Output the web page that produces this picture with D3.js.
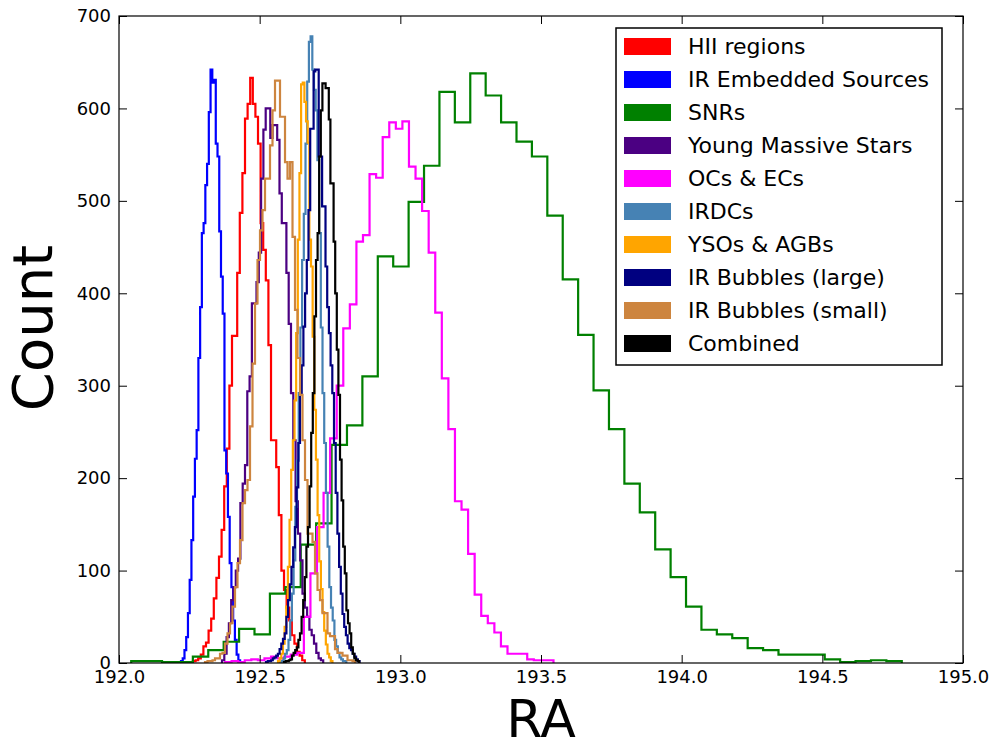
<!DOCTYPE html>
<html>
<head>
<meta charset="utf-8">
<script src="https://cdn.jsdelivr.net/npm/d3@7"></script>
<style>
  body { margin: 0; background: #fff; }
  svg { display: block; font-family: "DejaVu Sans", sans-serif; }
</style>
</head>
<body>
<svg id="chart" width="990" height="748"></svg>
<script>
"use strict";

// bin range [lo, hi] in RA, counts split evenly across it
const hiiRange = [192.2630, 192.6605];
const hiiCounts = [2, 3, 5, 9, 18, 22, 35, 48, 70, 92, 115, 144, 191, 232, 300, 354, 354, 422, 487, 530,
    589, 605, 633, 605, 591, 562, 476, 447, 414, 344, 241, 241, 212, 160, 100, 79, 60, 46, 30, 21, 12, 8, 3];

const embRange = [192.2204, 192.4305];
const embCounts = [2, 5, 14, 28, 54, 90, 133, 180, 221, 252, 330, 385, 465, 476, 517, 540, 596, 642, 628, 631,
    562, 548, 467, 418, 378, 230, 205, 158, 108, 82, 46, 25, 9, 3];

const snrRange = [192.0434, 194.7824];
const snrCounts = [2, 2, 1, 1, 7, 14, 23, 37, 31, 75, 82, 128, 151, 236, 257, 310, 440, 429, 499, 538,
    618, 585, 638, 614, 585, 564, 548, 484, 415, 355, 295, 253, 194, 163, 123, 93, 61, 36, 31, 27,
    16, 14, 9, 9, 9, 4, 1, 2, 3, 2];

const ymsRange = [192.3661, 192.7258];
const ymsCounts = [3, 10, 28, 43, 68, 82, 100, 113, 173, 194, 214, 294, 310, 389, 389, 412, 444, 524, 577, 600,
    600, 568, 582, 582, 566, 508, 476, 476, 422, 367, 292, 241, 175, 140, 111, 75, 60, 50, 36, 30, 21, 11, 5, 3];

const ocRange = [192.3769, 193.5444];
const ocCounts = [1, 2, 1, 3, 4, 3, 5, 7, 5, 7, 9, 11, 50, 97, 147, 184, 243, 300, 362, 388,
    456, 463, 529, 525, 569, 585, 578, 586, 537, 524, 489, 444, 379, 308, 253, 175, 166, 118, 74, 51,
    43, 33, 18, 10, 10, 10, 4, 3, 3, 3];

const irdcRange = [192.5723, 192.8080];
const irdcCounts = [1, 2, 5, 10, 14, 25, 46, 75, 111, 169, 219, 292, 363, 436, 486, 562, 629, 672, 678, 642,
    620, 598, 544, 465, 363, 292, 238, 184, 126, 82, 60, 46, 25, 18, 11, 6, 4, 2, 2];

const ysoRange = [192.5652, 192.7587];
const ysoCounts = [2, 5, 10, 21, 39, 61, 104, 155, 209, 241, 284, 357, 458, 530, 626, 628, 607, 586, 563, 458,
    429, 353, 274, 220, 160, 110, 80, 55, 35, 20, 10, 6, 2];

const bigRange = [192.5225, 192.8549];
const bigCounts = [1, 2, 2, 3, 5, 6, 8, 10, 15, 21, 26, 32, 50, 68, 85, 104, 125, 147, 190, 238,
    290, 322, 364, 400, 436, 490, 578, 578, 640, 642, 642, 548, 548, 494, 494, 429, 385, 357, 322, 292,
    238, 184, 140, 104, 75, 53, 39, 30, 21, 16, 14, 10, 7, 4, 2];

const smallRange = [192.3057, 192.8389];
const smallCounts = [1, 2, 2, 3, 5, 5, 10, 11, 21, 32, 43, 61, 82, 108, 133, 173, 187, 198, 256, 324,
    389, 436, 468, 490, 524, 524, 560, 598, 630, 630, 591, 591, 542, 524, 542, 461, 382, 330, 290, 241,
    198, 140, 140, 131, 97, 79, 68, 54, 54, 32, 29, 29, 15, 11, 11, 8, 8, 3, 3, 2];

const allRange = [192.5865, 192.8538];
const allCounts = [1, 2, 2, 3, 4, 8, 11, 14, 17, 25, 32, 50, 68, 93, 126, 147, 191, 249, 292, 375,
    436, 465, 548, 598, 627, 627, 622, 622, 588, 519, 519, 456, 400, 339, 290, 220, 176, 126, 97, 57,
    43, 32, 17, 10, 5, 3, 2];

const labels = ["HII regions", "IR Embedded Sources", "SNRs", "Young Massive Stars", "OCs & ECs",
    "IRDCs", "YSOs & AGBs", "IR Bubbles (large)", "IR Bubbles (small)", "Combined"];
const colors = ["#ff0000", "#0000ff", "#008000", "#4b0082", "#ff00ff",
    "#4682b4", "#ffa500", "#000080", "#cd853f", "#000000"];
const ranges = [hiiRange, embRange, snrRange, ymsRange, ocRange, irdcRange, ysoRange, bigRange, smallRange, allRange];
const counts = [hiiCounts, embCounts, snrCounts, ymsCounts, ocCounts, irdcCounts, ysoCounts, bigCounts, smallCounts, allCounts];

const xTicks = [192.0, 192.5, 193.0, 193.5, 194.0, 194.5, 195.0];
const yTicks = [0, 100, 200, 300, 400, 500, 600, 700];

const margin = {top: 16, right: 27, bottom: 85, left: 119},
    W = 990, H = 748,
    w = W - margin.left - margin.right,
    h = H - margin.top - margin.bottom;

const svg = d3.select("#chart");
const g = svg.append("g").attr("transform", `translate(${margin.left},${margin.top})`);

const x = d3.scaleLinear().domain([192, 195]).range([0, w]);
const y = d3.scaleLinear().domain([0, 700]).range([h, 0]);

g.append("clipPath").attr("id", "clip")
    .append("rect").attr("width", w).attr("height", h);

const line = d3.line();

const series = labels.map((name, i) => ({name, color: colors[i], range: ranges[i], counts: counts[i]}));

g.append("g").attr("clip-path", "url(#clip)")
    .selectAll("path")
    .data(series)
    .join("path")
    .attr("fill", "none")
    .attr("stroke", d => d.color)
    .attr("stroke-width", 2.2)
    .attr("stroke-linejoin", "miter")
    .attr("d", d => {
        const n = d.counts.length,
            bw = (d.range[1] - d.range[0]) / n,
            pts = [[x(d.range[0]), y(0)]];
        d.counts.forEach((c, i) => {
            pts.push([x(d.range[0] + i * bw), y(c)]);
            pts.push([x(d.range[0] + (i + 1) * bw), y(c)]);
        });
        pts.push([x(d.range[1]), y(0)]);
        return line(pts);
    });

// axes, ticks pointing inward on all four sides
function style(sel) {
    sel.select(".domain").remove();
    sel.selectAll(".tick line").attr("stroke", "#000").attr("stroke-width", 1);
    sel.selectAll(".tick text").attr("fill", "#000").style("font-size", "18px")
        .style("font-family", "'DejaVu Sans', sans-serif");
}

g.append("g").attr("transform", `translate(0,${h})`)
    .call(d3.axisBottom(x).tickValues(xTicks).tickFormat(d3.format(".1f")).tickSize(-8).tickPadding(7))
    .call(style);
g.append("g")
    .call(d3.axisTop(x).tickValues(xTicks).tickFormat("").tickSize(-8))
    .call(style);
g.append("g")
    .call(d3.axisLeft(y).tickValues(yTicks).tickSize(-8).tickPadding(8))
    .call(style);
g.append("g").attr("transform", `translate(${w},0)`)
    .call(d3.axisRight(y).tickValues(yTicks).tickFormat("").tickSize(-8))
    .call(style);

g.append("rect").attr("width", w).attr("height", h)
    .attr("fill", "none").attr("stroke", "#000").attr("stroke-width", 1.2);

g.append("text")
    .attr("x", w / 2).attr("y", h + 74)
    .attr("text-anchor", "middle")
    .style("font-size", "52px")
    .text("RA");

g.append("text")
    .attr("transform", `translate(${-67},${312}) rotate(-90)`)
    .attr("text-anchor", "middle")
    .style("font-size", "56px")
    .text("Count");

// legend
const lg = g.append("g").attr("transform", `translate(${616 - margin.left},${28 - margin.top})`);
lg.append("rect").attr("width", 326).attr("height", 337)
    .attr("fill", "#fff").attr("stroke", "#000").attr("stroke-width", 1.5);
const items = lg.selectAll("g.item").data(series).join("g")
    .attr("class", "item")
    .attr("transform", (d, i) => `translate(8,${10 + i * 33})`);
items.append("rect").attr("width", 47).attr("height", 17).attr("fill", d => d.color);
items.append("text").attr("x", 64).attr("y", 16)
    .style("font-size", "22px")
    .text(d => d.name);
</script>
</body>
</html>
